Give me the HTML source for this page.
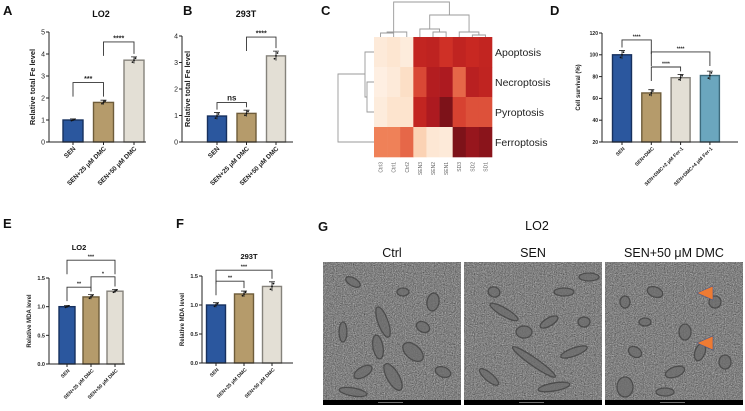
<!DOCTYPE html>
<html><head><meta charset="utf-8"><style>
html,body{margin:0;padding:0;background:#fff}
svg, svg text{font-family:"Liberation Sans",Arial,sans-serif}
svg{display:block}
</style></head><body>
<svg id="fig" width="745" height="411" viewBox="0 0 745 411" xmlns="http://www.w3.org/2000/svg">
<defs>
<filter id="grain" x="0" y="0" width="100%" height="100%" color-interpolation-filters="sRGB">
<feTurbulence type="fractalNoise" baseFrequency="0.9" numOctaves="3" seed="3" result="n"/>
<feColorMatrix type="matrix" values="0.33 0.33 0.33 0 0  0.33 0.33 0.33 0 0  0.33 0.33 0.33 0 0  0 0 0 0 1" result="g"/>
<feComponentTransfer><feFuncR type="linear" slope="1.6" intercept="-0.3"/><feFuncG type="linear" slope="1.6" intercept="-0.3"/><feFuncB type="linear" slope="1.6" intercept="-0.3"/></feComponentTransfer>
</filter>
</defs>
<g id="root"></g>
</svg>
<script>
// ---------- data ----------
const fdCats = ['SEN','SEN+25 μM DMC','SEN+50 μM DMC'];
const aVals = [1.0, 1.8, 3.72];
const aErr = [0.05, 0.1, 0.15];
const aTicks = [0,1,2,3,4,5];
const bVals = [0.98, 1.08, 3.25];
const bErr = [0.13, 0.12, 0.18];
const bTicks = [0,1,2,3,4];
const dCats = ['SEN','SEN+DMC','SEN+DMC+2 μM Fer-1','SEN+DMC+4 μM Fer-1'];
const dVals = [100, 65, 79, 81];
const dErr = [4, 3, 3, 4];
const dTicks = [20,40,60,80,100,120];
const eVals = [1.0, 1.17, 1.27];
const eErr = [0.02, 0.04, 0.03];
const eTicks = [0.0,0.5,1.0,1.5];
const fVals = [1.0, 1.19, 1.32];
const fErr = [0.04, 0.05, 0.08];
const fTicks = [0.0,0.5,1.0,1.5];
const aSig = [[0,1,2.7,'***'],[1,2,4.55,'****']];
const bSig = [[0,1,1.49,'ns'],[1,2,3.96,'****']];
const dSig = [[0,1,113.6,'****'],[1,3,102.6,'****'],[1,2,88.8,'****']];
const eSig = [[0,2,1.81,'***'],[1,2,1.52,'*'],[0,1,1.34,'**']];
const fSig = [[0,2,1.6,'***'],[0,1,1.41,'**']];
const hmRows = ['Apoptosis','Necroptosis','Pyroptosis','Ferroptosis'];
const hmCols = ['Ctrl3','Ctrl1','Ctrl2','SEN3','SEN2','SEN1','SD3','SD2','SD1'];
const hmValues = [
 [.06,.09,.05,.75,.77,.68,.76,.72,.75],
 [.03,.06,.13,.60,.82,.85,.50,.79,.76],
 [.05,.10,.10,.75,.85,1.0,.62,.57,.57],
 [.42,.42,.50,.18,.08,.06,1.0,.92,.96]
];

// ---------- helpers ----------
const NS='http://www.w3.org/2000/svg';
const root=document.getElementById('root');
function mk(tag,attrs,parent){const e=document.createElementNS(NS,tag);for(const k in attrs)e.setAttribute(k,attrs[k]);(parent||root).appendChild(e);return e;}
function txt(s,attrs,parent){const e=mk('text',attrs,parent);e.textContent=s;return e;}
const fills=['#2b579e','#b59b6b','#e3dfd5','#6ba6be'];
const strokes=['#17305e','#6e5c3a','#85827b','#3d6a7c'];

function barChart(name,cats,vals,errs,ticks,sigs,g){
  const grp=mk('g',{});
  
  
  const tMin=ticks[0],tMax=ticks[ticks.length-1];
  const y=v=>g.y0-(v-tMin)/(tMax-tMin)*(g.y0-g.yTop);
  const x=i=>g.x1+i*g.step;
  vals.forEach((v,i)=>{
    const r=mk('rect',{x:x(i)-g.bw/2,y:y(v),width:g.bw,height:g.y0-y(v),fill:fills[i],stroke:strokes[i],'stroke-width':1.4},grp);
    
    
    const e=errs[i];
    const eb=mk('path',{d:`M${x(i)},${y(v+e)}V${y(v-e)}M${x(i)-3},${y(v+e)}H${x(i)+3}`,stroke:'#222','stroke-width':0.8,fill:'none'},grp);
    
    
    [-1.5,0,1.5].forEach((d,k)=>{const c=mk('circle',{cx:x(i)+d,cy:y(v+(k-1)*e*0.6),r:0.9,fill:'#111'},grp);
      
      });
  });
  const ax=mk('path',{d:`M${g.ax},${g.yTop}V${g.y0}H${g.xEnd}`,stroke:'#222','stroke-width':1,fill:'none'},grp);
  
  
  ticks.forEach(t=>{
    mk('line',{x1:g.ax-3,x2:g.ax,y1:y(t),y2:y(t),stroke:'#222','stroke-width':1},grp);
    const tl=txt(g.fmt?g.fmt(t):String(t),{x:g.ax-4,y:y(t)+g.fs*0.35,'font-size':g.fs,'text-anchor':'end',fill:'#222','font-weight':g.bold?'bold':'normal'},grp);
    
    
  });
  cats.forEach((c,i)=>{
    mk('line',{x1:x(i),x2:x(i),y1:g.y0,y2:g.y0+3,stroke:'#222','stroke-width':1},grp);
    const xl=txt(c,{transform:`translate(${x(i)+3},${g.y0+7}) rotate(-45)`,'font-size':g.xfs,'text-anchor':'end',fill:'#222','font-weight':'bold'},grp);
    
    
  });
  const yt=txt(g.ytitle,{transform:`translate(${g.ytx},${(g.y0+g.yTop)/2}) rotate(-90)`,'font-size':g.ytfs,'text-anchor':'middle',fill:'#222','font-weight':'bold'},grp);
  
  
  sigs.forEach(s=>{
    const [i,j,lv,lab]=s;
    const top=y(lv);
    const li=Math.min(top+14,y(vals[i]+errs[i])-3), lj=Math.min(top+14,y(vals[j]+errs[j])-3);
    const br=mk('path',{d:`M${x(i)},${li}V${top}H${x(j)}V${lj}`,stroke:'#333','stroke-width':0.9,fill:'none'},grp);
    
    
    const st=txt(lab,{x:(x(i)+x(j))/2,y:top-(lab==='ns'?2:1.5),'font-size':lab==='ns'?g.fs+1:g.fs,'text-anchor':'middle',fill:'#222','font-weight':'bold'},grp);
    
    
  });
}

function panelLabel(s,x,y){const t=txt(s,{x:x,y:y,'font-size':13,'font-weight':'bold',fill:'#111'});
  
  }
function title(s,x,y,fs,bold,name){const t=txt(s,{x:x,y:y,'font-size':fs,'text-anchor':'middle','font-weight':bold?'bold':'normal',fill:'#111'});
  
  }

panelLabel('A',3,15);
title('LO2',101,17,9,true,'chart-title-a');
barChart('chart-a-lo2-fe',fdCats,aVals,aErr,aTicks,aSig,{ax:49,y0:142,yTop:32,xEnd:146,x1:73,step:30.5,bw:20,fs:7,xfs:6.5,ytitle:'Relative total Fe level',ytx:35,ytfs:7.5,bold:false});
panelLabel('B',183,15);
title('293T',246,17,9,true,'chart-title-b');
barChart('chart-b-293t-fe',fdCats,bVals,bErr,bTicks,bSig,{ax:182,y0:142,yTop:36,xEnd:293,x1:217,step:29.5,bw:19,fs:7,xfs:6.5,ytitle:'Relative total Fe level',ytx:190,ytfs:7.5,bold:false});
panelLabel('D',550,15);
barChart('chart-d-cell-survival',dCats,dVals,dErr,dTicks,dSig,{ax:602,y0:142,yTop:33,xEnd:738,x1:622,step:29.3,bw:19,fs:5,xfs:5,ytitle:'Cell survival (%)',ytx:580,ytfs:6,bold:true});
panelLabel('E',3,228);
title('LO2',79,250,7.5,true,'chart-title-e');
barChart('chart-e-lo2-mda',fdCats,eVals,eErr,eTicks,eSig,{ax:49,y0:364,yTop:278,xEnd:125,x1:67,step:24,bw:16,fs:5.5,xfs:5,ytitle:'Relative MDA level',ytx:31,ytfs:6,bold:true,fmt:t=>t.toFixed(1)});
panelLabel('F',176,228);
title('293T',249,259,7.5,true,'chart-title-f');
barChart('chart-f-293t-mda',fdCats,fVals,fErr,fTicks,fSig,{ax:202,y0:363,yTop:276,xEnd:293,x1:216,step:28,bw:19,fs:5.5,xfs:5,ytitle:'Relative MDA level',ytx:184,ytfs:6,bold:true,fmt:t=>t.toFixed(1)});

// ---------- C heatmap ----------
panelLabel('C',321,15);
const hmStops=[[0,[254,244,234]],[0.15,[252,220,192]],[0.4,[241,135,92]],[0.55,[224,87,62]],[0.7,[204,42,34]],[0.85,[173,26,32]],[1,[125,18,25]]];
function hmColor(v){for(let k=1;k<hmStops.length;k++){if(v<=hmStops[k][0]){const [a,ca]=hmStops[k-1],[b,cb]=hmStops[k];const t=(v-a)/(b-a);return 'rgb('+ca.map((c,i)=>Math.round(c+(cb[i]-c)*t)).join(',')+')';}}return 'rgb(125,18,25)';}
const hx0=374,hy0=37,cw=118/9,rh=30;
const hm=mk('g',{});


hmValues.forEach((row,r)=>row.forEach((v,c)=>{
  const cell=mk('rect',{x:hx0+c*cw,y:hy0+r*rh,width:cw+0.3,height:rh+0.3,fill:hmColor(v)},hm);
  
  
}));
hmRows.forEach((s,r)=>{const t=txt(s,{x:495,y:hy0+r*rh+rh/2+4,'font-size':10.5,fill:'#222'},hm);
  
  });
hmCols.forEach((s,c)=>{const t=txt(s,{transform:`translate(${hx0+c*cw+cw/2+2},${162}) rotate(-90)`,'font-size':5,'text-anchor':'end',fill:'#666'},hm);
  
  });
const cc=i=>hx0+i*cw+cw/2;
const dend=mk('path',{d:
 `M${cc(0)},${hy0}V33H${cc(1)}V${hy0}M${(cc(0)+cc(1))/2},33V32H${cc(2)}V${hy0}`+
 `M${cc(4)},${hy0}V32H${cc(5)}V${hy0}M${cc(3)},${hy0}V29H${(cc(4)+cc(5))/2}V32`+
 `M${cc(7)},${hy0}V35H${cc(8)}V${hy0}M${cc(6)},${hy0}V32H${(cc(7)+cc(8))/2}V35`+
 `M${(cc(3)+cc(4.5))/2},29V15H${(cc(6)+cc(7.5))/2}V32`+
 `M${(cc(0)+cc(2))/2},32V2H${(cc(3.7)+cc(6.8))/2}V15`+
 `M${hx0},${hy0+45}H367V${hy0+75}H${hx0}M${hx0},${hy0+15}H365V${hy0+60}H367`+
 `M${hx0},${hy0+105}H338V${hy0+37}H365`,stroke:'#999','stroke-width':0.9,fill:'none'});



// ---------- G micrographs ----------
panelLabel('G',318,231);
title('LO2',537,230,12.5,false,'panel-g-title');
const emX=[323,464,605], emLab=['Ctrl','SEN','SEN+50 μM DMC'];
const mito=[
 [[30,20,8,4,30],[60,60,5,16,-20],[90,90,12,7,40],[40,110,10,5,-30],[110,40,6,9,10],[70,115,15,6,60],[20,70,4,10,0],[120,110,8,5,20],[55,85,5,12,-10],[100,65,7,5,30],[80,30,6,4,0],[30,130,14,4,10]],
 [[40,50,16,4,30],[70,100,26,4,35],[100,30,10,4,0],[30,30,6,5,20],[110,90,14,4,-20],[60,70,8,6,0],[90,125,16,4,-10],[120,60,6,5,0],[25,115,12,4,40],[85,60,10,4,-30],[125,15,10,4,0]],
 [[50,30,8,5,20],[80,70,6,8,0],[30,90,7,5,30],[110,40,6,6,0],[70,110,10,5,-20],[120,100,6,7,0],[20,40,5,6,0],[40,60,6,4,0],[95,90,5,9,20],[20,125,8,10,0],[60,130,9,4,0]]
];
emX.forEach((x0,k)=>{
  const g=mk('g',{});
  
  
  mk('rect',{x:x0,y:262,width:138,height:143,fill:'#858585'},g);
  mk('rect',{x:x0,y:262,width:138,height:143,filter:'url(#grain)',opacity:0.55},g);
  mito[k].forEach(m=>{mk('ellipse',{cx:x0+m[0],cy:262+m[1],rx:m[2],ry:m[3],transform:`rotate(${m[4]} ${x0+m[0]} ${262+m[1]})`,fill:'#6c6c6c',stroke:'#3c3c3c','stroke-width':1.3,opacity:0.75},g);});
  mk('rect',{x:x0,y:400,width:138,height:5,fill:'#000'},g);
  mk('line',{x1:x0+55,x2:x0+80,y1:402.5,y2:402.5,stroke:'#ddd','stroke-width':0.6},g);
  title(emLab[k],x0+69,257,12.5,false,'micrograph-label');
});
[[697,293],[697,343]].forEach(p=>{
  const t=mk('path',{d:`M${p[0]},${p[1]}L${p[0]+16},${p[1]-7}V${p[1]+7}Z`,fill:'#ee7b33',stroke:'#4a5a8a','stroke-width':0.6});
  
  
});
</script>
</body></html>
